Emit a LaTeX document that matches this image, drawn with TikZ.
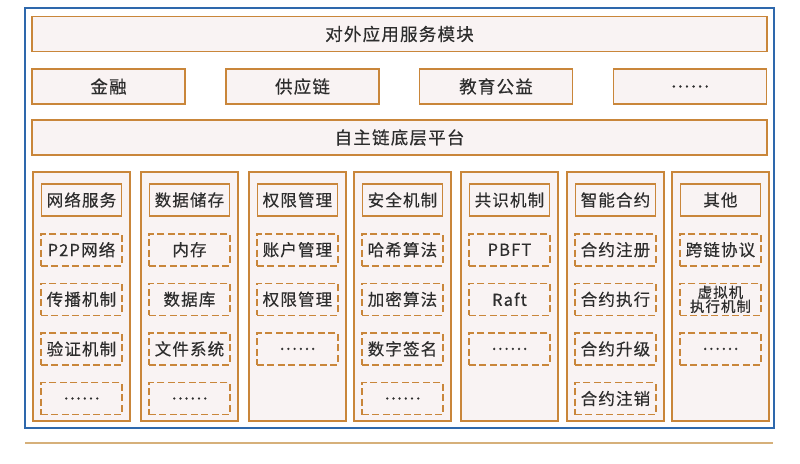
\documentclass[tikz,border=0pt]{standalone}
\usepackage{fontspec}
\setmainfont{Noto Sans CJK SC}
\newfontfamily\boxfont{Noto Sans CJK SC}[LetterSpace=7, FakeBold=0.4]
\usetikzlibrary{positioning}
\definecolor{frameblue}{RGB}{46,104,172}
\definecolor{boxorange}{RGB}{201,134,58}
\definecolor{boxfill}{RGB}{249,243,243}
\definecolor{rulebrown}{RGB}{214,176,122}
\definecolor{textgray}{RGB}{45,45,45}

\begin{document}
\begin{tikzpicture}[
  x=1pt, y=-1pt,
  node distance=16pt,
  bar/.style={draw=boxorange, line width=1.9pt, fill=boxfill, minimum height=35pt, inner sep=0pt, text=textgray, font=\boxfont\fontsize{17.5}{17.5}\selectfont},
  wide/.style={bar, minimum width=735pt},
  app/.style={bar, minimum width=153pt},
  column/.style={draw=boxorange, line width=1.9pt, fill=boxfill, minimum width=97pt, minimum height=249pt, anchor=north west, inner sep=0pt},
  head/.style={draw=boxorange, line width=1.9pt, fill=boxfill, minimum width=80pt, minimum height=32pt, inner sep=0pt, text=textgray, font=\boxfont\fontsize{16.5}{16.5}\selectfont},
  item/.style={head, dash pattern=on 7pt off 3.5pt, line width=1.6pt, minimum width=81pt}
]
\useasboundingbox (0,0) rectangle (800,463);
\draw[frameblue, line width=1.9pt] (25,8) rectangle (774,428);

% top layers
\node[wide] (apps) at (399.5,34) {对外应用服务模块};
\node[app] (finance) at (108.5,86.5) {金融};
\node[app] (supply) at (302.5,86.5) {供应链};
\node[app] (edu) at (496,86.5) {教育公益};
\node[app] (appmore) at (690,86.5) {……};
\node[wide] (platform) at (399.5,137.5) {自主链底层平台};

% modules
\node[column] (netcol) at (32,171) {};
\node[head, below=12pt of netcol.north] (nethead) {网络服务};
\node[item, below=of nethead] (p2p) {P2P网络};
\node[item, below=of p2p] (gossip) {传播机制};
\node[item, below=of gossip] (verify) {验证机制};
\node[item, below=of verify] (netmore) {……};

\node[column] (datacol) at (140,171) {};
\node[head, below=12pt of datacol.north] (datahead) {数据储存};
\node[item, below=of datahead] (memory) {内存};
\node[item, below=of memory] (database) {数据库};
\node[item, below=of database] (filesys) {文件系统};
\node[item, below=of filesys] (datamore) {……};

\node[column] (authcol) at (248,171) {};
\node[head, below=12pt of authcol.north] (authhead) {权限管理};
\node[item, below=of authhead] (account) {账户管理};
\node[item, below=of account] (perm) {权限管理};
\node[item, below=of perm] (authmore) {……};

\node[column] (seccol) at (353,171) {};
\node[head, below=12pt of seccol.north] (sechead) {安全机制};
\node[item, below=of sechead] (hash) {哈希算法};
\node[item, below=of hash] (crypt) {加密算法};
\node[item, below=of crypt] (sign) {数字签名};
\node[item, below=of sign] (secmore) {……};

\node[column] (conscol) at (460,171) {};
\node[head, below=12pt of conscol.north] (conshead) {共识机制};
\node[item, below=of conshead] (pbft) {PBFT};
\node[item, below=of pbft] (raft) {Raft};
\node[item, below=of raft] (consmore) {……};

\node[column] (contcol) at (566,171) {};
\node[head, below=12pt of contcol.north] (conthead) {智能合约};
\node[item, below=of conthead] (register) {合约注册};
\node[item, below=of register] (execute) {合约执行};
\node[item, below=of execute] (upgrade) {合约升级};
\node[item, below=of upgrade] (revoke) {合约注销};

\node[column] (othercol) at (671,171) {};
\node[head, below=12pt of othercol.north] (otherhead) {其他};
\node[item, below=of otherhead] (crosschain) {跨链协议};
\node[item, below=of crosschain, align=center, font=\boxfont\fontsize{14.5}{14}\selectfont] (vm) {虚拟机\\执行机制};
\node[item, below=of vm] (othermore) {……};

\coordinate (ruleL) at (25,443);
\coordinate (ruleR) at (773,443);
\draw[rulebrown, line width=1.9pt] (ruleL) -- (ruleR);
\end{tikzpicture}
\end{document}
